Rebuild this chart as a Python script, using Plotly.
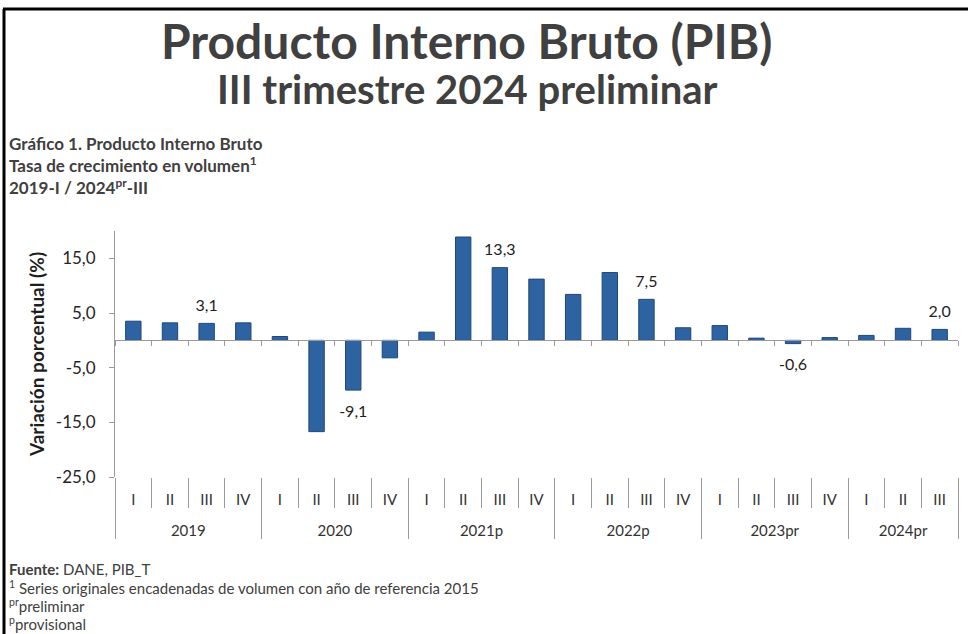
import plotly.graph_objects as go

# ---------------- data ----------------
years = ["2019", "2020", "2021p", "2022p", "2023pr", "2024pr"]
quarters_in_year = [4, 4, 4, 4, 4, 3]
quarter_names = ["I", "II", "III", "IV"]
growth = [3.5, 3.2, 3.1, 3.2,
          0.7, -16.7, -9.1, -3.2,
          1.5, 18.9, 13.3, 11.2,
          8.4, 12.4, 7.5, 2.3,
          2.7, 0.4, -0.6, 0.5,
          0.9, 2.2, 2.0]
show_label = [False, False, True, False,
              False, False, True, False,
              False, False, True, False,
              False, False, True, False,
              False, False, True, False,
              False, False, True]
y_ticks = [15, 5, -5, -15, -25]
y_range = [-25, 20]

title1 = "Producto Interno Bruto (PIB)"
title2 = "III trimestre 2024 preliminar"
head_lines = ["<b>Gráfico 1. Producto Interno Bruto</b>",
              "<b>Tasa de crecimiento en volumen<sup>1</sup></b>",
              "<b>2019-I / 2024<sup>pr</sup>-III</b>"]
foot_lines = ["<b>Fuente:</b> DANE, PIB_T",
              "<sup>1</sup> Series originales encadenadas de volumen con año de referencia 2015",
              "<sup>pr</sup>preliminar",
              "<sup>p</sup>provisional"]
y_title = "Variación porcentual (%)"

# ---------------- derived ----------------
def fmt(v):
    return f"{v:.1f}".replace(".", ",")

x_pos = []
x_qlabel = []
year_centers = []
year_bounds = [-0.5]
k = 0
for yname, nq in zip(years, quarters_in_year):
    start = k
    for q in range(nq):
        x_pos.append(k)
        x_qlabel.append(quarter_names[q])
        k += 1
    year_centers.append((start + k - 1) / 2)
    year_bounds.append(k - 0.5)
n = len(growth)
q_bounds = [i - 0.5 for i in range(n + 1)]
x_range = [-0.5, n - 0.5]

lab_x = [x for x, s in zip(x_pos, show_label) if s]
lab_y = [v for v, s in zip(growth, show_label) if s]
lab_txt = [fmt(v) for v in lab_y]
lab_posn = ["top center" if v >= 0 else "bottom center" for v in lab_y]
lab_gap = [12 if v >= 0 else 22 for v in lab_y]

W, H = 968, 634
ML, MR, MT, MB = 115, 10, 231, 157
PW = W - ML - MR
PH = H - MT - MB

def px_x(px):
    return (px - ML) / PW

def px_y(py):
    return (H - MB - py) / PH

FONT = "Lato, 'Open Sans', sans-serif"
AX = "#9a9a9a"

fig = go.Figure()
fig.add_trace(go.Bar(
    x=x_pos,
    y=growth,
    marker=dict(color="#2E63A2", line=dict(color="#1f4777", width=1)),
    width=0.42,
    hoverinfo="y",
    showlegend=False,
))
# data labels
fig.add_trace(go.Scatter(
    x=lab_x, y=lab_y, mode="markers+text",
    text=lab_txt, textposition=lab_posn,
    textfont=dict(family=FONT, size=16, color="#1e1e1e"),
    marker=dict(size=lab_gap, opacity=0),
    cliponaxis=False, hoverinfo="skip", showlegend=False,
))
# invisible helper traces for the overlay axes
for ax_name in ["x2", "x3"]:
    fig.add_trace(go.Scatter(
        x=x_pos, y=growth, xaxis=ax_name, yaxis="y",
        mode="markers", marker=dict(opacity=0), hoverinfo="skip", showlegend=False,
    ))

zero_pos = (0 - y_range[0]) / (y_range[1] - y_range[0])

fig.update_layout(
    width=W, height=H,
    margin=dict(l=ML, r=MR, t=MT, b=MB, pad=0),
    paper_bgcolor="white", plot_bgcolor="white",
    font=dict(family=FONT, color="#262626"),
    separators=",.",
    # quarter labels with separators
    xaxis=dict(
        type="linear", range=x_range,
        tickmode="array", tickvals=x_pos, ticktext=x_qlabel,
        ticks="", ticklabelstandoff=12,
        tickfont=dict(family=FONT, size=15, color="#333333"),
        minor=dict(tickmode="array", tickvals=q_bounds, ticks="outside", ticklen=30,
                   tickcolor=AX, tickwidth=1, showgrid=False),
        showline=False, showgrid=False, zeroline=False,
    ),
    # zero line with small boundary ticks
    xaxis2=dict(
        overlaying="x", anchor="free", position=zero_pos,
        type="linear", range=x_range,
        tickmode="array", tickvals=q_bounds,
        showline=True, linecolor=AX, linewidth=1,
        ticks="outside", ticklen=5, tickcolor=AX,
        showticklabels=False, showgrid=False, zeroline=False,
    ),
    # year labels with long separators
    xaxis3=dict(
        overlaying="x", anchor="y", side="bottom",
        type="linear", range=x_range,
        tickmode="array", tickvals=year_centers, ticktext=years,
        ticks="", ticklabelstandoff=43,
        tickfont=dict(family=FONT, size=15, color="#333333"),
        minor=dict(tickmode="array", tickvals=year_bounds, ticks="outside", ticklen=61,
                   tickcolor=AX, tickwidth=1, showgrid=False),
        showline=False, showgrid=False, zeroline=False,
    ),
    yaxis=dict(
        range=y_range,
        tickvals=y_ticks,
        ticktext=[fmt(v) for v in y_ticks],
        tickfont=dict(family=FONT, size=17, color="#262626"),
        ticks="outside", ticklen=5, tickcolor=AX,
        ticklabelstandoff=10,
        showline=True, linecolor=AX, linewidth=1,
        showgrid=False, zeroline=False,
        title=dict(text=f"<b>{y_title}</b>", font=dict(family=FONT, size=19, color="#1e1e1e"),
                   standoff=6),
    ),
)

ann = []
ann.append(dict(text=f"<b>{title1}</b>", x=px_x(467), y=px_y(40), xanchor="center", yanchor="middle",
                font=dict(family=FONT, size=48, color="#404040")))
ann.append(dict(text=f"<b>{title2}</b>", x=px_x(467), y=px_y(89), xanchor="center", yanchor="middle",
                font=dict(family=FONT, size=40, color="#404040")))
for i, t in enumerate(head_lines):
    ann.append(dict(text=t, x=px_x(7), y=px_y(143 + 21.5 * i), xanchor="left", yanchor="middle",
                    font=dict(family=FONT, size=17, color="#404040")))
for i, t in enumerate(foot_lines):
    ann.append(dict(text=t, x=px_x(7), y=px_y(569 + 18 * i), xanchor="left", yanchor="middle",
                    font=dict(family=FONT, size=15, color="#404040")))
for a in ann:
    a.update(xref="paper", yref="paper", showarrow=False)
fig.update_layout(annotations=ann)

fig.update_layout(shapes=[
    dict(type="line", xref="paper", yref="paper", x0=px_x(4), x1=px_x(4), y0=px_y(9), y1=px_y(H),
         line=dict(color="black", width=3)),
    dict(type="line", xref="paper", yref="paper", x0=px_x(3), x1=px_x(W), y0=px_y(9), y1=px_y(9),
         line=dict(color="black", width=3)),
])

fig.write_html("out.html", config={"displayModeBar": False},
               post_script="document.body.style.margin='0px';")
